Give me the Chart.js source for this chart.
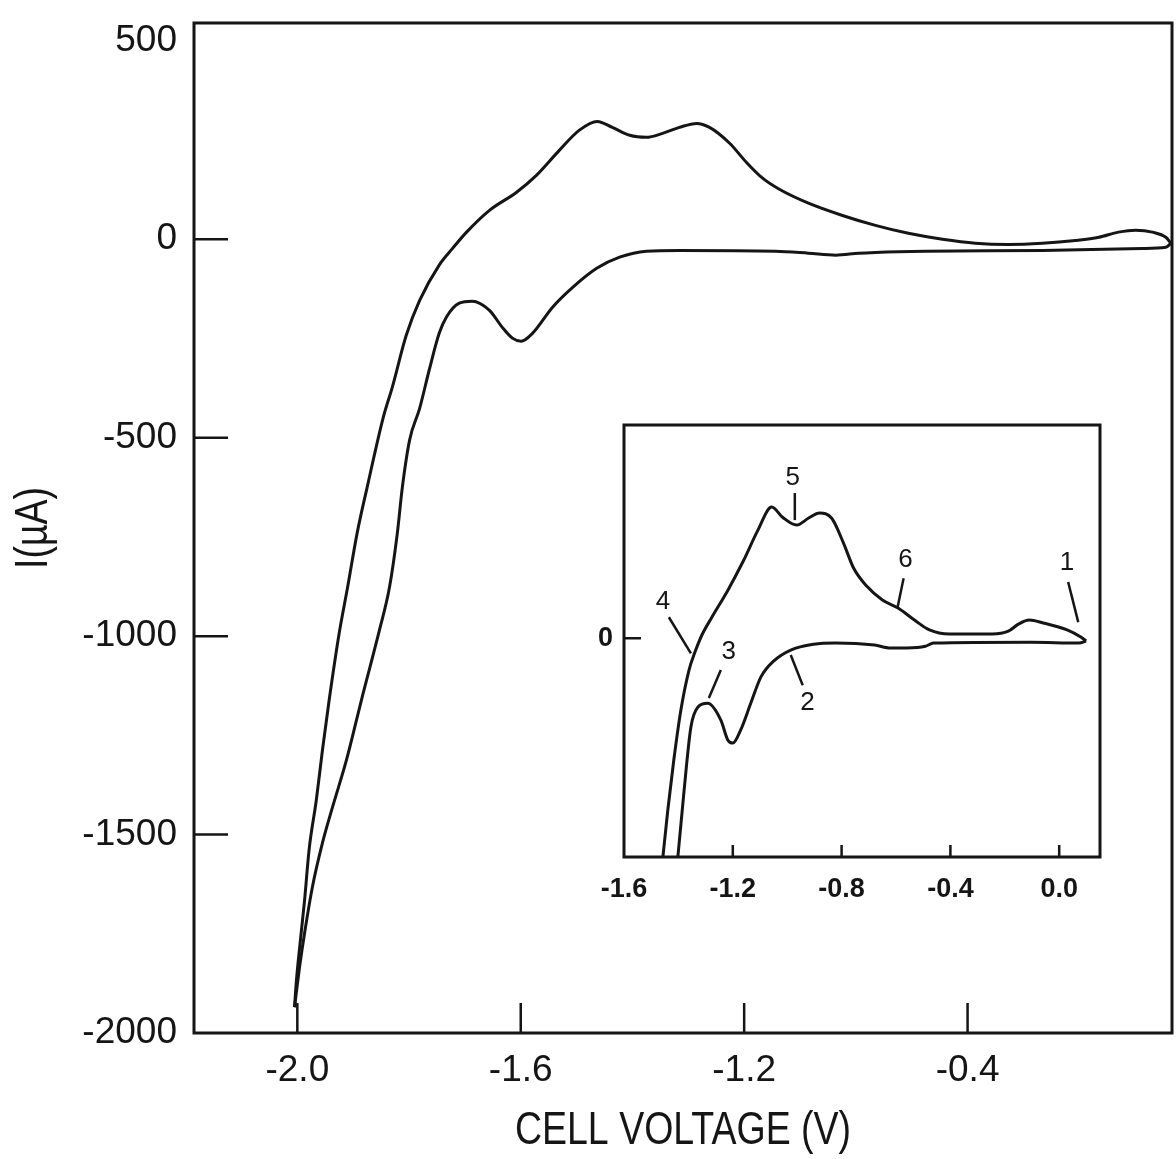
<!DOCTYPE html>
<html>
<head>
<meta charset="utf-8">
<title>Cell voltage sweep</title>
<script src="https://cdn.jsdelivr.net/npm/chart.js@4.4.1/dist/chart.umd.min.js"></script>
<style>
  html, body { margin: 0; padding: 0; background: #fff; }
  #wrap { position: relative; width: 1176px; height: 1159px; }
  #mainChart { position: absolute; left: 0; top: 0; }
  #insetChart { position: absolute; left: 570px; top: 405px; }
</style>
</head>
<body>
<div id="wrap">
  <canvas id="mainChart" width="1176" height="1159"></canvas>
  <canvas id="insetChart" width="560" height="510"></canvas>
</div>
<script>
// ==================== DATA ====================

// main plot, cathodic sweep (from the switching point at the right down to -2.0 V)
const mainFwdVolts = [-0.436, -0.445, -0.487, -0.666, -0.875, -0.965, -0.995, -1.036, -1.085, -1.144,
    -1.316, -1.375, -1.423, -1.464, -1.507, -1.543, -1.579, -1.599, -1.615, -1.633,
    -1.656, -1.687, -1.710, -1.733, -1.746, -1.764, -1.781, -1.799, -1.812, -1.821,
    -1.835, -1.853, -1.884, -1.912, -1.937, -1.955, -1.973, -1.987, -1.996, -2.005];
const mainFwdCurrent = [-10, -20, -23, -28, -30, -33, -35, -40, -35, -30,
    -28, -30, -45, -73, -121, -171, -237, -257, -249, -222,
    -179, -156, -161, -196, -237, -330, -426, -506, -625, -741,
    -877, -985, -1154, -1312, -1431, -1521, -1632, -1748, -1834, -1935];

// main plot, anodic sweep (back from -2.0 V to the right)
const mainRevVolts = [-2.005, -2.002, -1.995, -1.987, -1.979, -1.966, -1.955, -1.943, -1.925, -1.910,
    -1.893, -1.875, -1.846, -1.830, -1.805, -1.781, -1.746, -1.722, -1.697, -1.656,
    -1.608, -1.572, -1.531, -1.495, -1.463, -1.436, -1.405, -1.375, -1.346, -1.316,
    -1.285, -1.262, -1.226, -1.196, -1.167, -1.137, -1.085, -1.024, -0.965, -0.906,
    -0.845, -0.786, -0.727, -0.666, -0.607, -0.565, -0.530, -0.499, -0.469, -0.445, -0.436];
const mainRevCurrent = [-1935, -1874, -1773, -1665, -1539, -1413, -1287, -1161, -992, -877,
    -741, -625, -448, -373, -242, -154, -65, -23, 18, 73,
    118, 161, 224, 275, 297, 282, 262, 257, 267, 282,
    292, 282, 242, 194, 154, 126, 91, 60, 35, 15,
    0, -10, -13, -10, -3, 5, 18, 23, 18, 5, -10];

const mainXTicks = [-2.0, -1.6, -1.2, -0.8];
const mainXTickLabels = ['-2.0', '-1.6', '-1.2', '-0.4'];
const mainYTicks = [-2000, -1500, -1000, -500, 0, 500];

// inset, cathodic sweep
const insetFwdVolts = [0.099, 0.073, -0.103, -0.462, -0.492, -0.561, -0.620, -0.679, -0.822, -0.903,
    -0.987, -1.050, -1.097, -1.134, -1.171, -1.200, -1.218, -1.244, -1.292, -1.328,
    -1.354, -1.380, -1.402, -1.409];
const insetFwdCurrent = [-7, -12, -10, -12, -20, -24, -24, -17, -12, -15,
    -29, -56, -95, -159, -224, -256, -249, -200, -159, -168,
    -217, -378, -534, -590];

// inset, anodic sweep
const insetRevVolts = [-1.466, -1.457, -1.439, -1.417, -1.391, -1.361, -1.339, -1.314, -1.277, -1.218,
    -1.160, -1.108, -1.057, -1.017, -0.965, -0.921, -0.881, -0.837, -0.793, -0.756,
    -0.708, -0.650, -0.591, -0.532, -0.477, -0.404, -0.246, -0.187, -0.150, -0.110,
    -0.059, 0.029, 0.081, 0.099];
const insetRevCurrent = [-590, -534, -420, -298, -176, -78, -34, 7, 51, 117,
    190, 263, 320, 295, 276, 293, 305, 293, 232, 171,
    127, 93, 73, 44, 20, 10, 10, 17, 34, 44,
    37, 20, 2, -7];

const insetXTicks = [-1.6, -1.2, -0.8, -0.4, 0.0];
const insetXTickLabels = ['-1.6', '-1.2', '-0.8', '-0.4', '0.0'];
const insetYTicks = [0];

// numbered callouts on the inset: label, text anchor, leader line start and end
const calloutLabels = ['1', '2', '3', '4', '5', '6'];
const calloutText = [[0.029, 183], [-0.925, -159], [-1.215, -34], [-1.457, 88], [-0.980, 390], [-0.565, 190]];
const calloutFrom = [[0.033, 137], [-0.943, -115], [-1.244, -78], [-1.435, 51], [-0.972, 354], [-0.572, 146]];
const calloutTo = [[0.070, 39], [-0.987, -41], [-1.288, -146], [-1.354, -37], [-0.972, 288], [-0.594, 76]];

// ==================== STYLE ====================

const INK = '#151515';
const LABEL_FAMILY = "'Liberation Sans', Arial, sans-serif";

const toPoints = (xs, ys) => xs.map((x, i) => ({ x: x, y: ys[i] }));

function sweep(label, xs, ys) {
    return {
        label: label,
        data: toPoints(xs, ys),
        showLine: true,
        borderColor: INK,
        borderWidth: 3,
        pointRadius: 0,
        cubicInterpolationMode: 'monotone',
        fill: false
    };
}

// keep the plot box where the layout padding puts it
function noLabelPadding(s) {
    s.paddingTop = 0;
    s.paddingBottom = 0;
    s.paddingLeft = 0;
    s.paddingRight = 0;
}

// box round the plot area plus short tick marks pointing inwards
const framePlugin = {
    id: 'frame',
    afterDatasetsDraw(chart, args, opts) {
        const { ctx, chartArea: a, scales } = chart;
        ctx.save();
        ctx.strokeStyle = INK;
        ctx.lineCap = 'butt';
        ctx.lineWidth = opts.lineWidth;
        ctx.strokeRect(a.left, a.top, a.right - a.left, a.bottom - a.top);
        ctx.lineWidth = opts.tickWidth;
        ctx.beginPath();
        opts.xMarks.forEach(v => {
            const px = scales.x.getPixelForValue(v);
            ctx.moveTo(px, a.bottom);
            ctx.lineTo(px, a.bottom - opts.xTickLen);
        });
        opts.yMarks.forEach(v => {
            const py = scales.y.getPixelForValue(v);
            ctx.moveTo(a.left, py);
            ctx.lineTo(a.left + opts.yTickLen, py);
        });
        ctx.stroke();
        ctx.restore();
    }
};

// condensed axis titles (no narrow face installed, so squeeze the regular one)
const axisTitlePlugin = {
    id: 'axisTitles',
    afterDraw(chart, args, opts) {
        if (!opts.x) return;
        const { ctx, chartArea: a } = chart;
        ctx.save();
        ctx.fillStyle = INK;
        ctx.font = opts.font;
        ctx.textAlign = 'center';
        ctx.textBaseline = 'middle';

        ctx.save();
        ctx.translate((a.left + a.right) / 2, opts.xTitleY);
        ctx.scale(opts.squeeze, 1);
        ctx.fillText(opts.x, 0, 0);
        ctx.restore();

        ctx.save();
        ctx.translate(opts.yTitleX, (a.top + a.bottom) / 2);
        ctx.rotate(-Math.PI / 2);
        ctx.scale(opts.squeeze, 1);
        ctx.fillText(opts.y, 0, 0);
        ctx.restore();

        ctx.restore();
    }
};

// numbered labels with leader lines
const calloutPlugin = {
    id: 'callouts',
    afterDatasetsDraw(chart, args, opts) {
        if (!opts.labels) return;
        const { ctx, scales: { x, y } } = chart;
        ctx.save();
        ctx.strokeStyle = INK;
        ctx.fillStyle = INK;
        ctx.lineWidth = 2.5;
        ctx.font = opts.font;
        ctx.textAlign = 'center';
        ctx.textBaseline = 'middle';
        opts.labels.forEach((txt, i) => {
            ctx.beginPath();
            ctx.moveTo(x.getPixelForValue(opts.from[i][0]), y.getPixelForValue(opts.from[i][1]));
            ctx.lineTo(x.getPixelForValue(opts.to[i][0]), y.getPixelForValue(opts.to[i][1]));
            ctx.stroke();
            ctx.fillText(txt, x.getPixelForValue(opts.text[i][0]), y.getPixelForValue(opts.text[i][1]));
        });
        ctx.restore();
    }
};

Chart.register(framePlugin, axisTitlePlugin, calloutPlugin);

// ==================== MAIN PLOT ====================

new Chart(document.getElementById('mainChart'), {
    type: 'scatter',
    data: {
        datasets: [
            sweep('Cathodic sweep', mainFwdVolts, mainFwdCurrent),
            sweep('Anodic sweep', mainRevVolts, mainRevCurrent)
        ]
    },
    options: {
        responsive: false,
        animation: false,
        devicePixelRatio: 1,
        layout: { padding: { left: 0, top: 23, right: 4, bottom: 0 } },
        plugins: {
            legend: { display: false },
            tooltip: { enabled: false },
            frame: { lineWidth: 3, tickWidth: 2.5, xTickLen: 30, yTickLen: 34,
                     xMarks: mainXTicks, yMarks: mainYTicks.slice(1, 5) },
            axisTitles: {
                x: 'CELL VOLTAGE (V)',
                y: 'I(\u00b5A)',
                font: '46px ' + LABEL_FAMILY,
                squeeze: 0.815,
                xTitleY: 1131,
                yTitleX: 34
            }
        },
        scales: {
            x: {
                type: 'linear',
                min: -2.185,
                max: -0.434,
                afterBuildTicks: s => { s.ticks = mainXTicks.map(v => ({ value: v })); },
                afterFit: s => { s.height = 126; noLabelPadding(s); },
                grid: { display: false, drawTicks: false },
                border: { display: false },
                ticks: {
                    color: INK,
                    font: { family: LABEL_FAMILY, size: 37 },
                    padding: 16,
                    maxRotation: 0,
                    autoSkip: false,
                    callback: (v, i) => mainXTickLabels[i]
                }
            },
            y: {
                type: 'linear',
                min: -2000,
                max: 545,
                afterBuildTicks: s => { s.ticks = mainYTicks.map(v => ({ value: v })); },
                afterFit: s => { s.width = 194; noLabelPadding(s); },
                grid: { display: false, drawTicks: false },
                border: { display: false },
                ticks: {
                    color: INK,
                    font: { family: LABEL_FAMILY, size: 37 },
                    padding: 17,
                    callback: v => String(v)
                }
            }
        }
    }
});

// ==================== INSET ====================

new Chart(document.getElementById('insetChart'), {
    type: 'scatter',
    data: {
        datasets: [
            sweep('Cathodic sweep', insetFwdVolts, insetFwdCurrent),
            sweep('Anodic sweep', insetRevVolts, insetRevCurrent)
        ]
    },
    options: {
        responsive: false,
        animation: false,
        devicePixelRatio: 1,
        layout: { padding: { left: 0, top: 20, right: 30, bottom: 0 } },
        plugins: {
            legend: { display: false },
            tooltip: { enabled: false },
            frame: { lineWidth: 3, tickWidth: 2.5, xTickLen: 12, yTickLen: 17,
                     xMarks: insetXTicks.slice(1), yMarks: insetYTicks },
            callouts: {
                labels: calloutLabels,
                text: calloutText,
                from: calloutFrom,
                to: calloutTo,
                font: '26px ' + LABEL_FAMILY
            }
        },
        scales: {
            x: {
                type: 'linear',
                min: -1.6,
                max: 0.15,
                afterBuildTicks: s => { s.ticks = insetXTicks.map(v => ({ value: v })); },
                afterFit: s => { s.height = 58; noLabelPadding(s); },
                grid: { display: false, drawTicks: false },
                border: { display: false },
                ticks: {
                    color: INK,
                    font: { family: LABEL_FAMILY, size: 27, weight: 'bold' },
                    padding: 16,
                    maxRotation: 0,
                    autoSkip: false,
                    callback: (v, i) => insetXTickLabels[i]
                }
            },
            y: {
                type: 'linear',
                min: -534,
                max: 520,
                afterBuildTicks: s => { s.ticks = insetYTicks.map(v => ({ value: v })); },
                afterFit: s => { s.width = 54; noLabelPadding(s); },
                grid: { display: false, drawTicks: false },
                border: { display: false },
                ticks: {
                    color: INK,
                    font: { family: LABEL_FAMILY, size: 27, weight: 'bold' },
                    padding: 11,
                    callback: v => String(v)
                }
            }
        }
    }
});
</script>
</body>
</html>
